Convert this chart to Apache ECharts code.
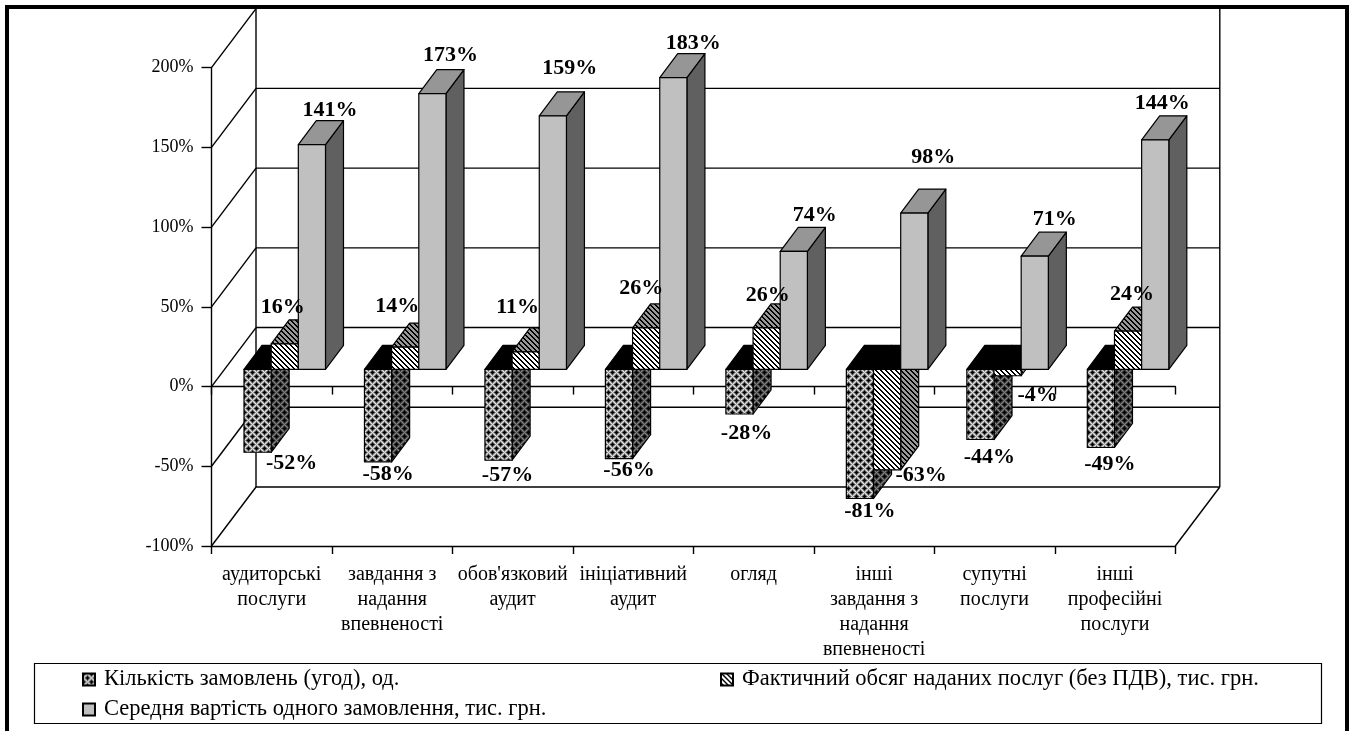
<!DOCTYPE html>
<html>
<head>
<meta charset="utf-8">
<style>html,body{margin:0;padding:0;background:#fff;overflow:hidden}#chart{width:1357px;height:731px}</style>
<script src="https://cdn.jsdelivr.net/npm/echarts@6/dist/echarts.min.js"></script>
</head>
<body>
<div id="chart"></div>
<script>
// Зміна показників замовлень, %
const categories = [
  'аудиторські\nпослуги',
  'завдання з\nнадання\nвпевненості',
  "обов'язковий\nаудит",
  'ініціативний\nаудит',
  'огляд',
  'інші\nзавдання з\nнадання\nвпевненості',
  'супутні\nпослуги',
  'інші\nпрофесійні\nпослуги'
];
const orderCount = [-52, -58, -57, -56, -28, -81, -44, -49];
const servicesVolume = [16, 14, 11, 26, 26, -63, -4, 24];
const averageCost = [141, 173, 159, 183, 74, 98, 71, 144];
const seriesNames = [
  'Кількість замовлень (угод), од.',
  'Фактичний обсяг наданих послуг (без ПДВ), тис. грн.',
  'Середня вартість одного замовлення, тис. грн.'
];
const yTicks = [-100, -50, 0, 50, 100, 150, 200];

// Hand placement of value labels relative to the end of each bar's front face
const orderNudge = [[34,11],[10,12],[9,15],[10,12],[7,19],[10,13],[9,18],[9,17]];
const volumeNudge = [[-2,-37],[-8,-41],[-8,-45],[-5,-40],[1,-33],[34,6],[30,20],[4,-37]];
const costNudge = [[18,-34],[18,-38],[17,-48],[20,-34],[21,-36],[19,-56],[20,-37],[7,-36]];

const FONT = '"Liberation Serif", "Times New Roman", serif';
// Oblique projection: wall depth, bar inset from the front plane, bar depth
const WALL = [44.5, -59];
const INSET = [13, -17.2];
const DEPTH = [18, -24];
const BAR_SHARE = 0.2255;

function tile(size, paint) {
  const c = document.createElement('canvas');
  c.width = c.height = size;
  const ctx = c.getContext('2d');
  for (let y = 0; y < size; y++) {
    for (let x = 0; x < size; x++) {
      ctx.fillStyle = paint(x, y);
      ctx.fillRect(x, y, 1, 1);
    }
  }
  return { image: c, repeat: 'repeat' };
}
function lattice(shades) {
  return tile(8, (x, y) => {
    const dist = (a, b) => {
      const dx = Math.min((x - a + 8) % 8, (a - x + 8) % 8);
      const dy = Math.min((y - b + 8) % 8, (b - y + 8) % 8);
      return dx + dy;
    };
    const d = Math.min(dist(0, 0), dist(4, 4));
    return shades[Math.max(d - 1, 0)];
  });
}
function stripes(dark, light) {
  return tile(5, (x, y) => ((x - y + 5) % 5 < 2 ? dark : light));
}

const faces = [
  {
    front: lattice(['#000', '#484848', '#989898', '#e0e0e0']),
    side: lattice(['#000', '#202020', '#505050', '#808080']),
    top: '#000'
  },
  { front: stripes('#000', '#fff'), side: stripes('#000', '#999'), top: stripes('#000', '#999') },
  { front: '#c0c0c0', side: '#606060', top: '#969696' }
];

function boxRenderer(slot, nudges) {
  return function (params, api) {
    const i = params.dataIndex;
    const v = api.value(1);
    const band = api.size([1, 0])[0];
    const barW = band * BAR_SHARE;
    const end = api.coord([i, v]);
    const zero = api.coord([i, 0]);
    const x0 = end[0] + INSET[0] + barW * (slot - 1.5);
    const x1 = x0 + barW;
    const yEnd = end[1] + INSET[1];
    const yZero = zero[1] + INSET[1];
    const yTop = Math.min(yEnd, yZero);
    const yBot = Math.max(yEnd, yZero);
    const [dx, dy] = DEPTH;
    const f = faces[slot];
    const stroke = { stroke: '#000', lineWidth: 1.2, lineJoin: 'round' };
    const poly = (pts, fill) => ({
      type: 'polygon', shape: { points: pts }, style: Object.assign({ fill }, stroke)
    });
    return {
      type: 'group',
      children: [
        poly([[x1, yTop], [x1 + dx, yTop + dy], [x1 + dx, yBot + dy], [x1, yBot]], f.side),
        poly([[x0, yTop], [x0 + dx, yTop + dy], [x1 + dx, yTop + dy], [x1, yTop]], v < 0 ? '#000' : f.top),
        poly([[x0, yTop], [x1, yTop], [x1, yBot], [x0, yBot]], f.front),
        {
          type: 'text',
          z2: 100,
          style: {
            text: v + '%',
            x: (x0 + x1) / 2 + nudges[i][0],
            y: yEnd + nudges[i][1],
            align: 'center',
            verticalAlign: 'middle',
            fill: '#000',
            font: 'bold 22px ' + FONT
          }
        }
      ]
    };
  };
}

// Back wall, left wall and floor of the 3D box, scaled by the value axis
function wallRenderer(params, api) {
  const line = (a, b) => ({
    type: 'line',
    shape: { x1: a[0], y1: a[1], x2: b[0], y2: b[1] },
    style: { stroke: '#000', lineWidth: 1.4 }
  });
  const back = (p) => [p[0] + WALL[0], p[1] + WALL[1]];
  const t = api.value(1);
  const last = categories.length - 1;
  const half = api.size([1, 0])[0] / 2;
  const l = api.coord([0, t]); l[0] -= half;
  const r = api.coord([last, t]); r[0] += half;
  const kids = [line(l, back(l))];
  if (t < 200) kids.push(line(back(l), back(r)));
  if (t === -100) {
    kids.push(line(r, back(r)));
    const lt = api.coord([0, 200]); lt[0] -= half;
    const rt = api.coord([last, 200]); rt[0] += half;
    kids.push(line(back(l), back(lt)));
    kids.push(line(back(r), back(rt)));
  }
  return { type: 'group', children: kids };
}

const chart = echarts.init(document.getElementById('chart'), null, { renderer: 'canvas' });
const toData = (arr) => arr.map((v, i) => [i, v]);
const legendBase = {
  orient: 'horizontal', selectedMode: false, icon: 'rect', itemWidth: 12, itemHeight: 12, itemGap: 6,
  padding: 0,
  textStyle: { fontFamily: FONT, fontSize: 22.5, color: '#000', padding: [0, 0, 0, 4] }
};

chart.setOption({
  animation: false,
  backgroundColor: '#fff',
  grid: { left: 211.5, right: 181.7, top: 67.7, bottom: 185 },
  legend: [
    Object.assign({}, legendBase, { left: 82, top: 668, data: [seriesNames[0]] }),
    Object.assign({}, legendBase, { left: 720, top: 668, data: [seriesNames[1]] }),
    Object.assign({}, legendBase, { left: 82, top: 698, data: [seriesNames[2]] })
  ],
  xAxis: [
    {
      type: 'category', data: categories, boundaryGap: true,
      axisLine: { onZero: false, lineStyle: { color: '#000', width: 1.4 } },
      axisTick: { show: true, length: 8, alignWithLabel: false, interval: 0, lineStyle: { color: '#000', width: 1.4 } },
      axisLabel: { interval: 0, margin: 16, color: '#000', fontFamily: FONT, fontSize: 20, lineHeight: 25, hideOverlap: false },
      splitLine: { show: false }
    },
    {
      type: 'category', data: categories, boundaryGap: true, position: 'bottom',
      axisLine: { onZero: true, lineStyle: { color: '#000', width: 1.4 } },
      axisTick: { show: true, length: 8, interval: 0, lineStyle: { color: '#000', width: 1.4 } },
      axisLabel: { show: false },
      splitLine: { show: false }
    }
  ],
  yAxis: {
    type: 'value', min: -100, max: 200, interval: 50,
    axisLine: { show: true, onZero: false, lineStyle: { color: '#000', width: 1.4 } },
    axisTick: { show: true, length: 10, lineStyle: { color: '#000', width: 1.4 } },
    axisLabel: { margin: 18, color: '#000', fontFamily: FONT, fontSize: 18, formatter: '{value}%' },
    splitLine: { show: false }
  },
  series: [
    {
      type: 'custom', name: 'walls', silent: true, clip: false, z: 1,
      renderItem: wallRenderer,
      data: yTicks.map((t) => [0, t])
    },
    {
      type: 'custom', name: seriesNames[0], clip: false, z: 2,
      itemStyle: { color: faces[0].front, borderColor: '#000', borderWidth: 1 },
      renderItem: boxRenderer(0, orderNudge), data: toData(orderCount)
    },
    {
      type: 'custom', name: seriesNames[1], clip: false, z: 2,
      itemStyle: { color: faces[1].front, borderColor: '#000', borderWidth: 1 },
      renderItem: boxRenderer(1, volumeNudge), data: toData(servicesVolume)
    },
    {
      type: 'custom', name: seriesNames[2], clip: false, z: 2,
      itemStyle: { color: faces[2].front, borderColor: '#000', borderWidth: 1 },
      renderItem: boxRenderer(2, costNudge), data: toData(averageCost)
    }
  ],
  graphic: [
    { type: 'rect', z: 0, silent: true, shape: { x: 7, y: 7, width: 1340, height: 740 }, style: { fill: 'none', stroke: '#000', lineWidth: 4 } },
    { type: 'rect', z: 0, silent: true, shape: { x: 34.5, y: 663.5, width: 1287, height: 60 }, style: { fill: 'none', stroke: '#000', lineWidth: 1.2 } }
  ]
});
</script>
</body>
</html>
